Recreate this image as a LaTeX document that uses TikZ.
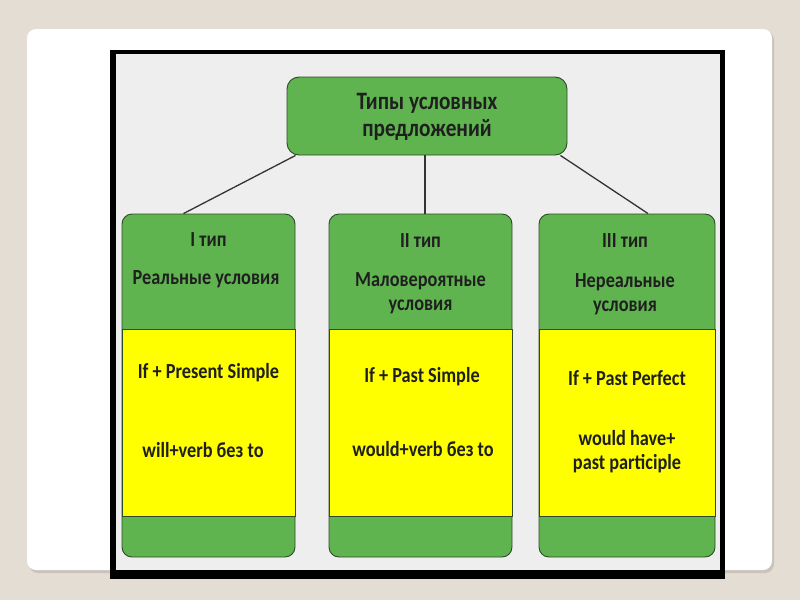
\documentclass[tikz,border=0pt]{standalone}
\usepackage{fontspec}
\setmainfont{Carlito}
\newfontfamily\condfont[FakeStretch=0.85]{Carlito}
\definecolor{bgbeige}{HTML}{E3DDD3}
\definecolor{shadowc}{HTML}{C9C3B9}
\definecolor{innerc}{HTML}{EEEEEE}
\definecolor{boxgreen}{RGB}{96,180,80}
\definecolor{boxyellow}{RGB}{255,255,0}
\definecolor{edgec}{HTML}{2E4A28}
\definecolor{linec}{HTML}{333333}
\tikzset{
  greenbox/.style={draw=edgec, line width=0.9pt, fill=boxgreen, rounded corners=10pt, inner sep=0pt},
  yellowbox/.style={draw=edgec, line width=0.9pt, fill=boxyellow, inner sep=0pt},
  conn/.style={draw=linec, line width=1.3pt},
  txt/.style={font=\condfont\bfseries\fontsize{21.5}{24}\selectfont, align=center, inner sep=0pt, text=black!88},
  ttl/.style={font=\condfont\bfseries\fontsize{25}{27}\selectfont, align=center, inner sep=0pt, text=black!88}
}
\begin{document}
\begin{tikzpicture}[x=1pt,y=-1pt]
\useasboundingbox (0,0) rectangle (800,600);
\fill[bgbeige] (0,0) rectangle (800,600);
\fill[shadowc, rounded corners=9pt] (29,31) rectangle (774,573);
\fill[white, rounded corners=9pt] (27,29) rectangle (772,570);
\fill[black] (110,50) rectangle (725,579);
\fill[innerc] (116,54) rectangle (720,570);

% top node
\node[greenbox, rounded corners=12pt, minimum width=280pt, minimum height=78pt] (top) at (427,116) {};
\node[ttl] (toptxt) at (427,117) {Типы условных\\предложений};

% boxes
\node[greenbox, minimum width=173pt, minimum height=343pt] (b1) at (208.5,385.5) {};
\node[greenbox, minimum width=183pt, minimum height=343pt] (b2) at (420.5,385.5) {};
\node[greenbox, minimum width=176pt, minimum height=343pt] (b3) at (627,385.5) {};
\node[yellowbox, minimum width=173pt, minimum height=187pt] (y1) at (208.5,422.5) {};
\node[yellowbox, minimum width=183pt, minimum height=187pt] (y2) at (420.5,422.5) {};
\node[yellowbox, minimum width=176pt, minimum height=187pt] (y3) at (627,422.5) {};

% connectors
\draw[conn] ([xshift=9pt]top.south west) -- ([xshift=-25pt]b1.north);
\draw[conn] ([xshift=-2pt]top.south) -- ([xshift=-2pt]top.south |- b2.north);
\draw[conn] ([xshift=-7pt]top.south east) -- ([xshift=21pt]b3.north);

% texts box 1
\node[txt] (t1a) at (208.5,240) {I тип};
\node[txt] (t1b) at (206,279) {Реальные условия};
\node[txt] (t1c) at (208.5,373) {If + Present Simple};
\node[txt] (t1d) at (203,450) {will+verb без to};
% texts box 2
\node[txt] (t2a) at (420.5,241) {II тип};
\node[txt] (t2b) at (420.5,293) {Маловероятные\\условия};
\node[txt] (t2c) at (422,377) {If + Past Simple};
\node[txt] (t2d) at (423,449) {would+verb без to};
% texts box 3
\node[txt] (t3a) at (625,241) {III тип};
\node[txt] (t3b) at (625,294) {Нереальные\\условия};
\node[txt] (t3c) at (627,378) {If + Past Perfect};
\node[txt] (t3d) at (627,452) {would have+\\past participle};
\end{tikzpicture}
\end{document}
